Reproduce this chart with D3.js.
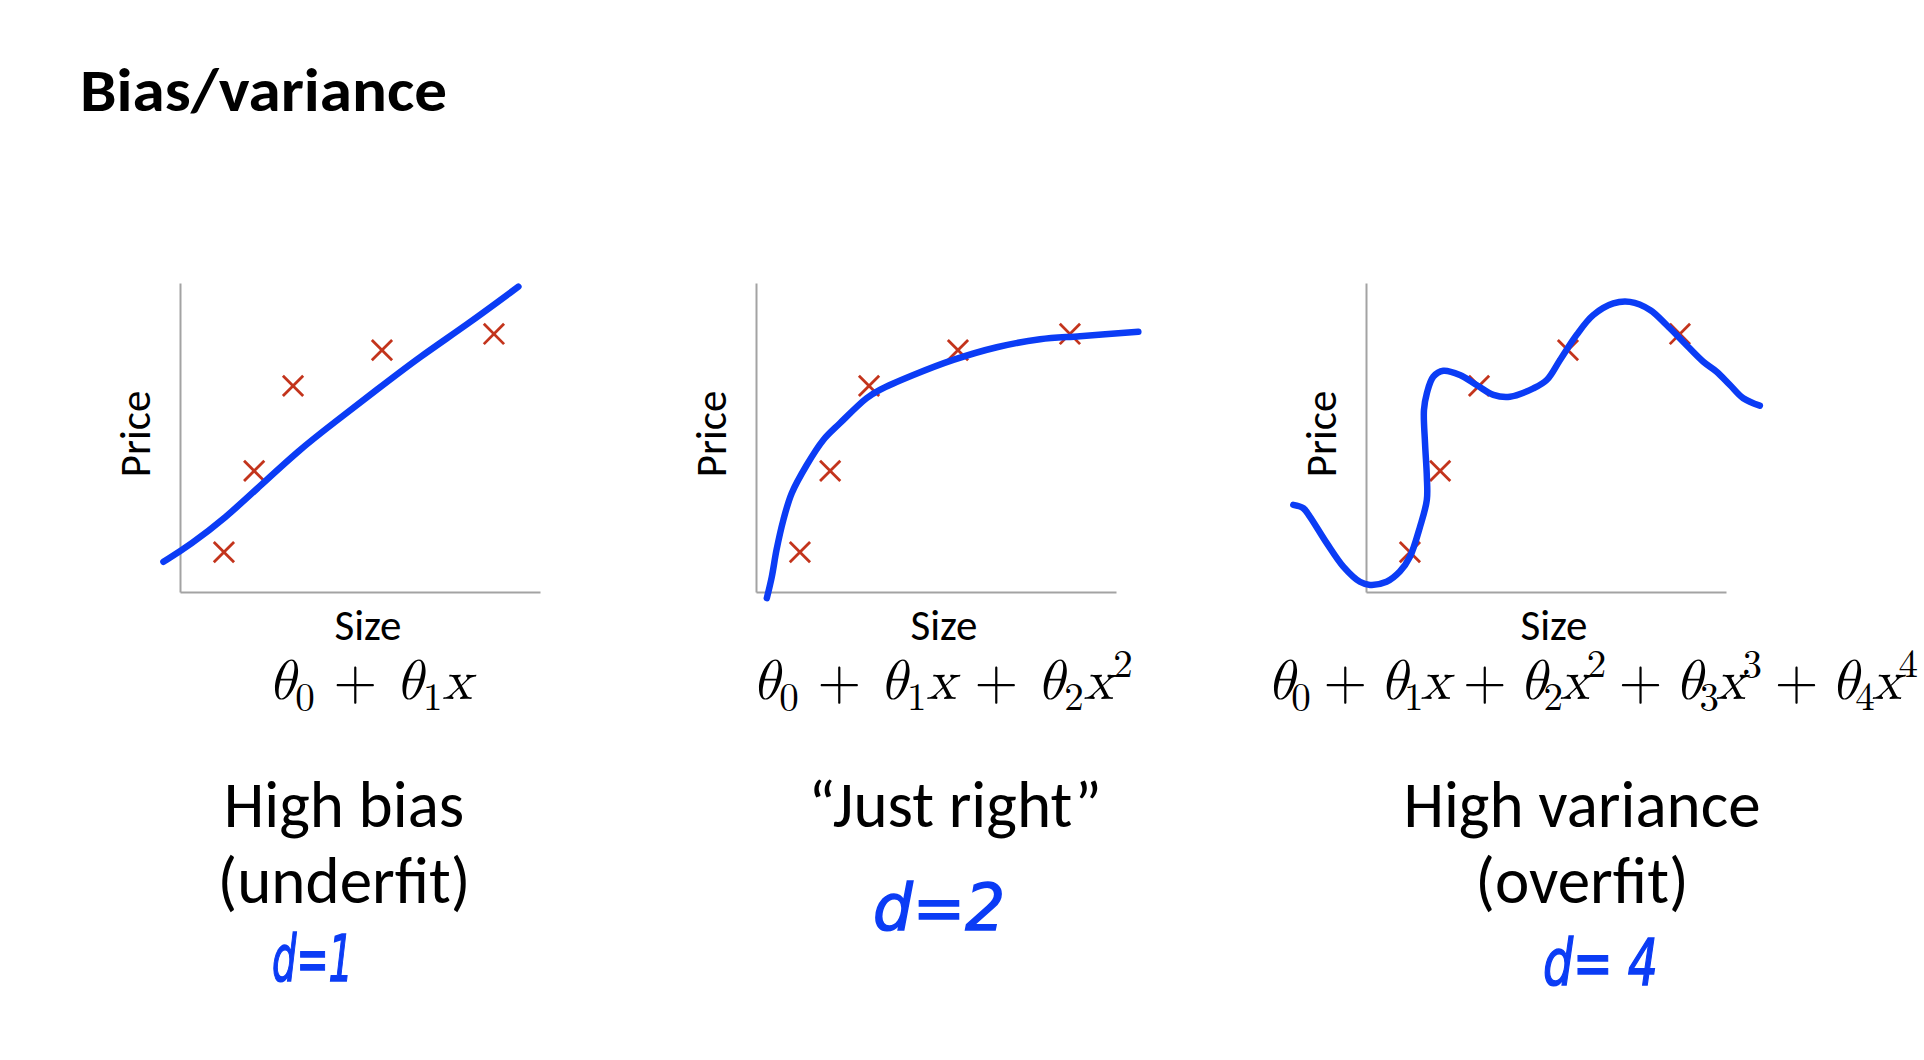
<!DOCTYPE html>
<html>
<head>
<meta charset="utf-8">
<script src="https://cdn.jsdelivr.net/npm/d3@7"></script>
<style>
  html, body { margin: 0; padding: 0; background: #fff; }
  svg { display: block; }
</style>
</head>
<body>
<div id="chart"></div>
<script>
// Training points (same five houses in every plot), axis units 0..10
const sizeVals  = [1.22, 2.06, 3.14, 5.61, 8.72];
const priceVals = [1.29, 3.92, 6.67, 7.83, 8.35];

// Hand drawn fits
const fit1X = [-0.46, 0.28, 1.30, 2.10, 3.33, 4.26, 5.46, 6.67, 7.96, 9.40];
const fit1Y = [ 0.98, 1.52, 2.44, 3.30, 4.62, 5.46, 6.54, 7.62, 8.64, 9.88];

const fit2X = [0.30, 0.44, 0.57, 0.76, 0.99, 1.41, 1.87, 2.33, 3.07, 3.44, 4.37, 5.48, 6.69, 7.89, 9.00, 10.62];
const fit2Y = [-0.20, 0.50, 1.36, 2.33, 3.19, 4.11, 4.92, 5.46, 6.27, 6.54, 7.02, 7.51, 7.92, 8.18, 8.28, 8.42];

const fit3X = [-2.02, -1.74, -1.56, -1.09, -0.63, -0.17, 0.11, 0.57, 0.94, 1.22, 1.50, 1.69, 1.69, 1.64, 1.61, 1.69, 1.87, 2.15, 2.61, 3.07, 3.54, 4.00, 4.65, 5.02, 5.39, 5.85, 6.31, 6.87, 7.33, 7.89, 8.35, 8.81, 9.37, 9.74, 10.11, 10.48, 10.94];
const fit3Y = [2.82, 2.71, 2.44, 1.58, 0.82, 0.33, 0.23, 0.33, 0.66, 1.14, 2.11, 2.98, 3.73, 4.81, 5.89, 6.43, 6.97, 7.16, 7.02, 6.70, 6.38, 6.32, 6.59, 6.86, 7.51, 8.32, 8.96, 9.34, 9.39, 9.13, 8.64, 8.10, 7.45, 7.13, 6.70, 6.27, 6.03];

const fitLabels    = ["High bias", "\u201cJust right\u201d", "High variance"];
const fitSubLabels = ["(underfit)", "", "(overfit)"];
const degreeNotes  = ["d=1", "d=2", "d= 4"];

// hypothesis formulas: [text, kind]  kind: i = italic, sub, sup, r = roman
const formulas = [
  [["θ","i"],["0","sub"],[" + ","r"],["θ","i"],["1","sub"],["x","i"]],
  [["θ","i"],["0","sub"],[" + ","r"],["θ","i"],["1","sub"],["x","i"],[" + ","r"],["θ","i"],["2","sub"],["x","i"],["2","sup"]],
  [["θ","i"],["0","sub"],[" + ","r"],["θ","i"],["1","sub"],["x","i"],[" + ","r"],["θ","i"],["2","sub"],["x","i"],["2","sup"],
   [" + ","r"],["θ","i"],["3","sub"],["x","i"],["3","sup"],[" + ","r"],["θ","i"],["4","sub"],["x","i"],["4","sup"]]
];

const fits = [
  d3.zip(fit1X, fit1Y),
  d3.zip(fit2X, fit2Y),
  d3.zip(fit3X, fit3Y)
];
const fitCurves = [d3.curveBasis, d3.curveCatmullRom.alpha(0.5), d3.curveCatmullRom.alpha(0.5)];

const width = 1924, height = 1060;
const sansFont = "Carlito, Lato, 'Open Sans', sans-serif";
const mathFont = "'Latin Modern Math', 'Liberation Serif', 'DejaVu Serif', serif";
const blue = "#0b3cf5", red = "#c3341c";

const panelLeft = [180, 756, 1366];
const plotW = 360, plotTop = 283, plotBottom = 592;
const labelCenter = [344, 955, 1582];
const formulaLeft = [268, 752, 1267];
const noteBox = [[272, 81, 981], [873, 132, 930], [1543, 115, 985]];

const svg = d3.select("#chart").append("svg")
    .attr("width", width)
    .attr("height", height);

// Title
svg.append("text")
    .attr("x", 80)
    .attr("y", 111)
    .style("font-family", sansFont)
    .style("font-weight", "bold")
    .style("font-size", "60px")
    .attr("textLength", 367)
    .attr("lengthAdjust", "spacingAndGlyphs")
    .text("Bias/variance");

const points = d3.zip(sizeVals, priceVals);

fits.forEach(function (fit, i) {
    const x = d3.scaleLinear().domain([0, 10]).range([panelLeft[i], panelLeft[i] + plotW]);
    const y = d3.scaleLinear().domain([0, 10]).range([plotBottom, plotTop]);

    const g = svg.append("g");

    // axes, no ticks
    g.append("g")
        .attr("transform", "translate(0," + plotBottom + ")")
        .call(d3.axisBottom(x).ticks(0).tickSizeOuter(0));
    g.append("g")
        .attr("transform", "translate(" + panelLeft[i] + ",0)")
        .call(d3.axisLeft(y).ticks(0).tickSizeOuter(0));
    g.selectAll(".domain")
        .attr("stroke", "#a3a3a3")
        .attr("stroke-width", 2);

    // axis titles
    g.append("text")
        .attr("transform", "translate(" + (panelLeft[i] - 30) + "," + 434 + ")rotate(-90)")
        .attr("text-anchor", "middle")
        .style("font-family", sansFont)
        .style("font-size", "43px")
        .text("Price");
    g.append("text")
        .attr("x", panelLeft[i] + plotW / 2 + 8)
        .attr("y", 640)
        .attr("text-anchor", "middle")
        .style("font-family", sansFont)
        .style("font-size", "43px")
        .text("Size");

    // data crosses
    g.selectAll(".pt")
        .data(points)
        .enter().append("path")
        .attr("class", "pt")
        .attr("transform", function (d) { return "translate(" + x(d[0]) + "," + y(d[1]) + ")"; })
        .attr("d", d3.symbol().type(d3.symbolX).size(270))
        .attr("fill", "none")
        .attr("stroke", red)
        .attr("stroke-width", 2.8);

    // fitted curve
    const line = d3.line()
        .x(function (d) { return x(d[0]); })
        .y(function (d) { return y(d[1]); })
        .curve(fitCurves[i]);
    g.append("path")
        .datum(fit)
        .attr("d", line)
        .attr("fill", "none")
        .attr("stroke", blue)
        .attr("stroke-width", 6.5)
        .attr("stroke-linecap", "round")
        .attr("stroke-linejoin", "round");

    // hypothesis formula
    const ft = g.append("text")
        .attr("x", formulaLeft[i])
        .attr("y", 699)
        .style("font-family", mathFont)
        .style("font-size", "56px")
        .attr("xml:space", "preserve")
        .style("white-space", "pre");
    let shift = 0;
    formulas[i].forEach(function (p) {
        const ts = ft.append("tspan");
        let target = 0;
        if (p[1] === "sub") target = 11;
        if (p[1] === "sup") target = -22;
        ts.attr("dy", target - shift);
        shift = target;
        if (p[1] === "i") ts.style("font-style", "italic");
        if (p[1] === "sub" || p[1] === "sup") ts.style("font-size", "39px");
        ts.text(p[0]);
    });
    // the long formula runs to the page edge: tighten its spacing to fit
    const fw = ft.node().getComputedTextLength();
    const room = width - 6 - formulaLeft[i];
    if (fw > room) {
        ft.attr("textLength", room).attr("lengthAdjust", "spacing");
    }

    // verdict labels
    g.append("text")
        .attr("x", labelCenter[i])
        .attr("y", 827)
        .attr("text-anchor", "middle")
        .style("font-family", sansFont)
        .style("font-size", "65px")
        .text(fitLabels[i]);
    if (fitSubLabels[i]) {
        g.append("text")
            .attr("x", labelCenter[i])
            .attr("y", 903)
            .attr("text-anchor", "middle")
            .style("font-family", sansFont)
            .style("font-size", "65px")
            .text(fitSubLabels[i]);
    }

    // handwritten degree note
    const nb = noteBox[i];
    g.append("text")
        .attr("x", nb[0])
        .attr("y", nb[2])
        .attr("textLength", nb[1])
        .attr("lengthAdjust", "spacingAndGlyphs")
        .style("font-family", "'DejaVu Sans', sans-serif")
        .style("font-style", "italic")
        .style("font-size", "64px")
        .attr("fill", blue)
        .attr("stroke", blue)
        .attr("stroke-width", 1.5)
        .text(degreeNotes[i]);
});
</script>
</body>
</html>
